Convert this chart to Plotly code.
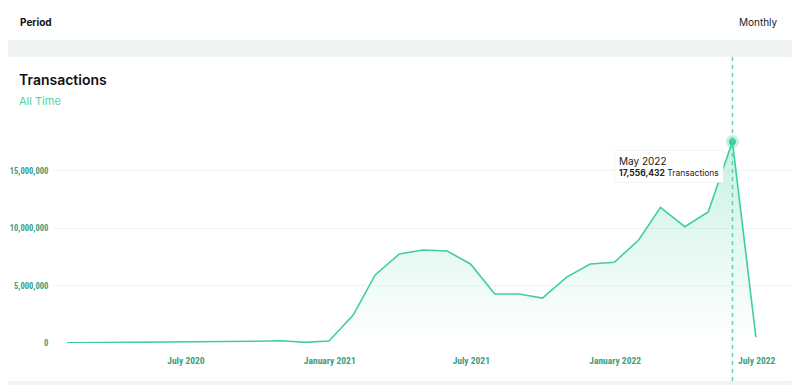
import plotly.graph_objects as go

# ---- data ----
months = [
    "2020-01-31", "2020-02-29", "2020-03-31", "2020-04-30", "2020-05-31", "2020-06-30",
    "2020-07-31", "2020-08-31", "2020-09-30", "2020-10-31", "2020-11-30", "2020-12-31",
    "2021-01-31", "2021-02-28", "2021-03-31", "2021-04-30", "2021-05-31", "2021-06-30",
    "2021-07-31", "2021-08-31", "2021-09-30", "2021-10-31", "2021-11-30", "2021-12-31",
    "2022-01-31", "2022-02-28", "2022-03-31", "2022-04-30", "2022-05-31", "2022-06-30",
]
transactions = [
    20000, 30000, 40000, 50000, 60000, 70000,
    80000, 100000, 150000, 200000, 60000, 170000,
    2440000, 5930000, 7760000, 8110000, 8020000, 6890000,
    4270000, 4270000, 3920000, 5750000, 6890000, 7040000,
    8980000, 11830000, 10140000, 11420000, 17556432, 500000,
]
y_tick_values = [0, 5000000, 10000000, 15000000]
y_tick_labels = ["0", "5,000,000", "10,000,000", "15,000,000"]
highlight_label = "May 2022"

LINE = "#3fcf9c"
TICK = "#3a9e7f"
FONT = "Inter, Roboto, sans-serif"
TICKFONT = "Liberation Sans Narrow, Roboto Condensed, Roboto, sans-serif"

peak_i = max(range(len(transactions)), key=lambda i: transactions[i])
peak_x = months[peak_i]
peak_y = transactions[peak_i]

# page offset of the plot div (browser body margin)
OFF = 8
W, H = 800, 385
# target page-pixel positions of plot area
P_LEFT, P_RIGHT, P_TOP, P_BOTTOM = 53, 795, 120, 343
ml = P_LEFT - OFF
mr = W - (P_RIGHT - OFF)
mt = P_TOP - OFF
mb = H - (P_BOTTOM - OFF)
pw, ph = W - ml - mr, H - mt - mb
PX_PER_M = 11.47

def to_paper(xp, yp):
    """page pixel -> paper coordinate"""
    return (xp - P_LEFT) / pw, (P_BOTTOM - yp) / ph

fig = go.Figure()

fig.add_trace(go.Scatter(
    x=months, y=transactions, mode="lines",
    line=dict(color=LINE, width=1.6),
    fill="tozeroy",
    fillgradient=dict(type="vertical",
                      colorscale=[[0, "rgba(63,207,156,0.0)"], [1, "rgba(63,207,156,0.28)"]],
                      start=0, stop=peak_y),
    hoverinfo="skip",
))
fig.add_trace(go.Scatter(
    x=[peak_x], y=[peak_y], mode="markers",
    marker=dict(size=13, color="rgba(63,207,156,0.3)"), hoverinfo="skip",
))
fig.add_trace(go.Scatter(
    x=[peak_x], y=[peak_y], mode="markers",
    marker=dict(size=7, color=LINE), hoverinfo="skip",
))

def card(x0, y0, x1, y1, r):
    ax0, ay0 = to_paper(x0, y0)
    ax1, ay1 = to_paper(x1, y1)
    rx = r / pw
    ry = r / ph
    path = (f"M {ax0+rx},{ay0} L {ax1-rx},{ay0} Q {ax1},{ay0} {ax1},{ay0-ry} "
            f"L {ax1},{ay1+ry} Q {ax1},{ay1} {ax1-rx},{ay1} L {ax0+rx},{ay1} "
            f"Q {ax0},{ay1} {ax0},{ay1+ry} L {ax0},{ay0-ry} Q {ax0},{ay0} {ax0+rx},{ay0} Z")
    return dict(type="path", xref="paper", yref="paper", path=path,
                fillcolor="white", line=dict(width=0), layer="below")

shapes = [
    card(3, 5, 795, 40, 8),
    card(3, 57, 795, 381, 8),
    dict(type="line", xref="x", yref="paper", x0=peak_x, x1=peak_x,
         y0=to_paper(0, 57)[1], y1=to_paper(0, 395)[1],
         line=dict(color="#5fd3aa", width=1.5, dash="4px,4px"), layer="above"),
]

annotations = [
    dict(xref="paper", yref="paper", x=to_paper(18, 0)[0], y=to_paper(0, 22)[1],
         xanchor="left", yanchor="middle", showarrow=False,
         text="<b>Period</b>", font=dict(family=FONT, size=10, color="#111")),
    dict(xref="paper", yref="paper", x=to_paper(780, 0)[0], y=to_paper(0, 22)[1],
         xanchor="right", yanchor="middle", showarrow=False,
         text="Monthly", font=dict(family=FONT, size=10, color="#222")),
    dict(xref="paper", yref="paper", x=to_paper(17, 0)[0], y=to_paper(0, 80)[1],
         xanchor="left", yanchor="middle", showarrow=False,
         text="<span style='font-weight:600'>Transactions</span>",
         font=dict(family=FONT, size=14, color="#111")),
    dict(xref="paper", yref="paper", x=to_paper(17, 0)[0], y=to_paper(0, 101)[1],
         xanchor="left", yanchor="middle", showarrow=False,
         text="All Time", font=dict(family=FONT, size=11, color="#4fd3a2")),
    dict(x=peak_x, y=peak_y, xref="x", yref="y", showarrow=False,
         xanchor="right", yanchor="top", xshift=-8, yshift=-8,
         align="left", bgcolor="white", bordercolor="rgba(0,0,0,0.04)", borderwidth=1,
         borderpad=4,
         text=(f"<span style='font-size:10px'>{highlight_label}</span><br>"
               f"<b>{peak_y:,}</b> Transactions"),
         font=dict(family=FONT, size=8.5, color="#222")),
]

fig.update_layout(
    width=W, height=H,
    margin=dict(l=ml, r=mr, t=mt, b=mb, autoexpand=False),
    paper_bgcolor="#f1f4f4",
    plot_bgcolor="rgba(0,0,0,0)",
    showlegend=False,
    hovermode=False,
    shapes=shapes,
    annotations=annotations,
    xaxis=dict(
        type="date", range=["2020-01-13", "2022-08-19"],
        tick0="2020-07-01", dtick="M6", tickformat="%B %Y",
        showgrid=False, zeroline=False, showline=False, automargin=False,
        ticks="outside", ticklen=9, tickcolor="rgba(0,0,0,0)",
        tickfont=dict(family=TICKFONT, size=9.5, color=TICK, weight="bold"),
    ),
    yaxis=dict(
        range=[0, (P_BOTTOM - P_TOP) * 1e6 / PX_PER_M],
        tickvals=y_tick_values, ticktext=y_tick_labels,
        showgrid=True, gridcolor="#f0f5f3", gridwidth=1,
        zeroline=False, showline=False, automargin=False,
        ticks="outside", ticklen=2, tickcolor="rgba(0,0,0,0)",
        tickfont=dict(family=TICKFONT, size=8.5, color=TICK, weight="bold"),
    ),
)

fig.write_html("out.html")
